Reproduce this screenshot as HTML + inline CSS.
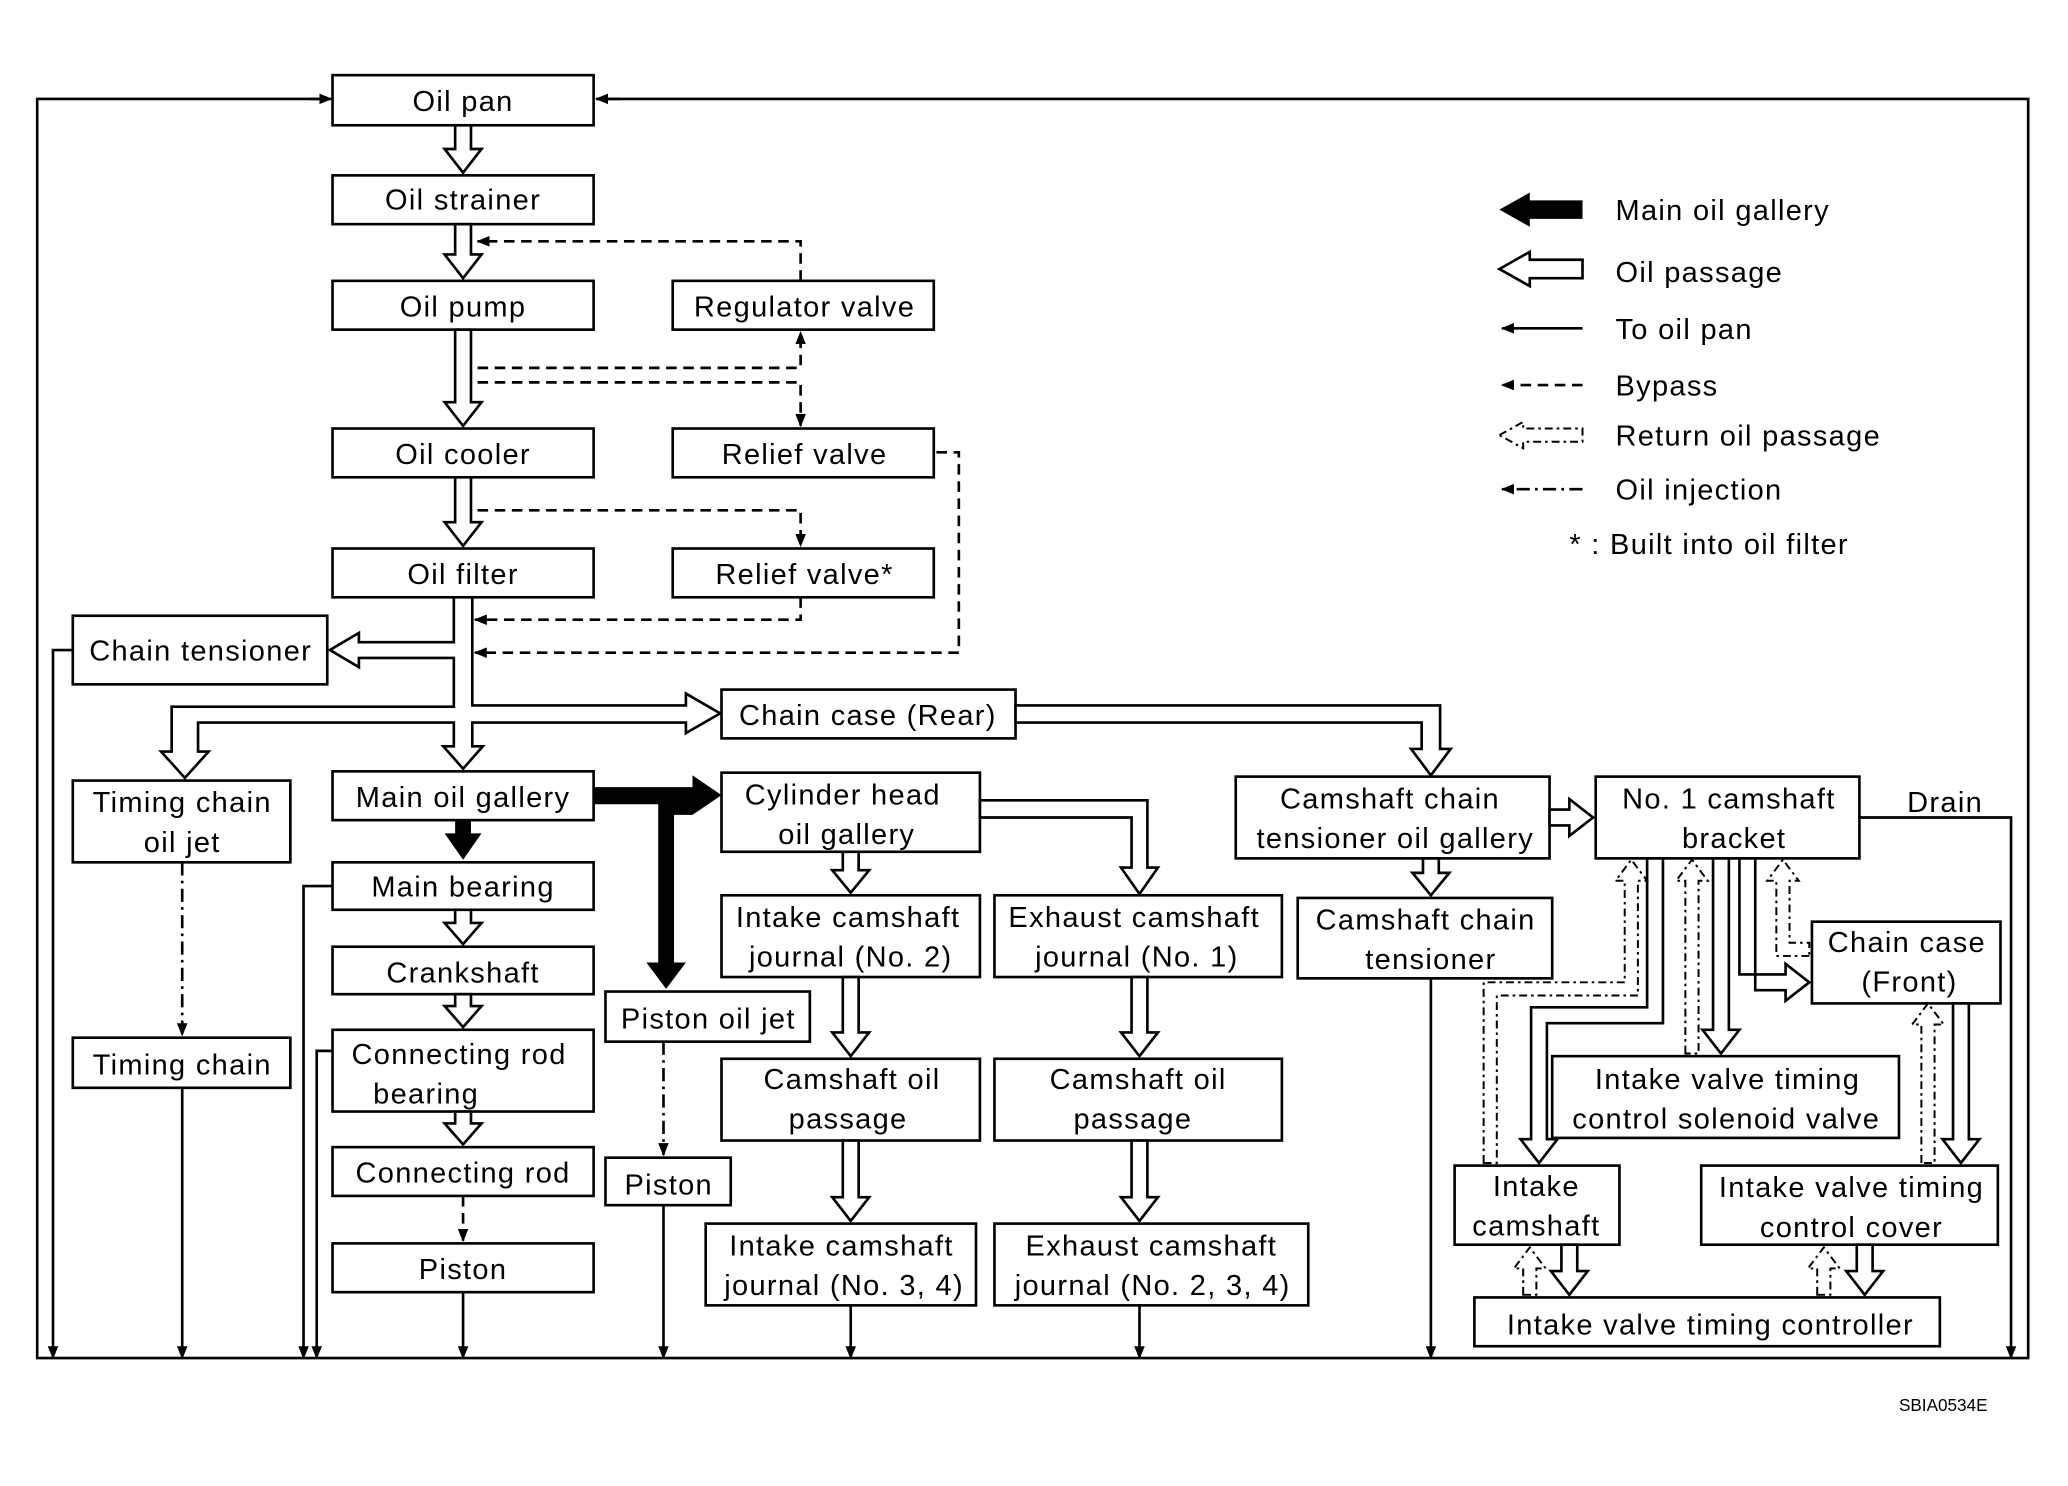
<!DOCTYPE html>
<html><head><meta charset="utf-8"><style>
html,body{margin:0;padding:0;background:#fff;}
svg{display:block;}
text{font-family:"Liberation Sans",sans-serif;font-size:22px;fill:#000;letter-spacing:1px;}
</style></head><body>
<svg width="2068" height="1486" viewBox="0 0 1568 1127" xmlns="http://www.w3.org/2000/svg">
<defs>
<marker id="ah" markerWidth="10" markerHeight="8" refX="9" refY="4" orient="auto" markerUnits="userSpaceOnUse"><path d="M0,0 L10,4 L0,8 Z" fill="#000"/></marker>
</defs>
<g fill="#fff" stroke="#000" stroke-width="2">
<rect x="252" y="57" width="198" height="38"/>
<rect x="252" y="133" width="198" height="37"/>
<rect x="252" y="213" width="198" height="37"/>
<rect x="510" y="213" width="198" height="37"/>
<rect x="252" y="325" width="198" height="37"/>
<rect x="510" y="325" width="198" height="37"/>
<rect x="252" y="416" width="198" height="37"/>
<rect x="510" y="416" width="198" height="37"/>
<rect x="55" y="467" width="193" height="52"/>
<rect x="547" y="523" width="223" height="37"/>
<rect x="55" y="592" width="165" height="62"/>
<rect x="252" y="585" width="198" height="37"/>
<rect x="252" y="654" width="198" height="36"/>
<rect x="252" y="718" width="198" height="36"/>
<rect x="252" y="781" width="198" height="62"/>
<rect x="252" y="870" width="198" height="37"/>
<rect x="252" y="943" width="198" height="37"/>
<rect x="55" y="787" width="165" height="38"/>
<rect x="547" y="586" width="196" height="60"/>
<rect x="547" y="679" width="196" height="62"/>
<rect x="754" y="679" width="218" height="62"/>
<rect x="459" y="752" width="155" height="38"/>
<rect x="459" y="878" width="95" height="36"/>
<rect x="547" y="803" width="196" height="62"/>
<rect x="754" y="803" width="218" height="62"/>
<rect x="535" y="928" width="205" height="62"/>
<rect x="754" y="928" width="238" height="62"/>
<rect x="937" y="589" width="238" height="62"/>
<rect x="984" y="681" width="193" height="61"/>
<rect x="1210" y="589" width="200" height="62"/>
<rect x="1374" y="699" width="143" height="62"/>
<rect x="1177" y="801" width="263" height="62"/>
<rect x="1103" y="884" width="125" height="60"/>
<rect x="1290" y="884" width="225" height="60"/>
<rect x="1118" y="984" width="353" height="37"/>
</g>
<g fill="none" stroke="#000" stroke-width="2">
<polyline points="250,75 28,75 28,1030 1538,1030 1538,75 452,75"/>
<path d="M235,75 H251" marker-end="url(#ah)"/>
<path d="M470,75 H452" marker-end="url(#ah)"/>
<path d="M55,493 H40 V1030" marker-end="url(#ah)"/>
<path d="M138,825 V1030" marker-end="url(#ah)"/>
<path d="M252,672 H230 V1030" marker-end="url(#ah)"/>
<path d="M252,797 H240 V1030" marker-end="url(#ah)"/>
<path d="M351,980 V1030" marker-end="url(#ah)"/>
<path d="M503,914 V1030" marker-end="url(#ah)"/>
<path d="M645,990 V1030" marker-end="url(#ah)"/>
<path d="M864,990 V1030" marker-end="url(#ah)"/>
<path d="M1085,742 V1030" marker-end="url(#ah)"/>
<path d="M1410,620 H1525 V1030" marker-end="url(#ah)"/>
</g>
<g fill="none" stroke="#000" stroke-width="2" stroke-dasharray="8,5">
<path d="M607,213 V183 H362" marker-end="url(#ah)"/>
<path d="M362,279 H607 V252" marker-end="url(#ah)"/>
<path d="M362,290 H607 V323" marker-end="url(#ah)"/>
<path d="M362,387 H607 V414" marker-end="url(#ah)"/>
<path d="M607,453 V470 H360" marker-end="url(#ah)"/>
<path d="M710,343 H727 V495 H360" marker-end="url(#ah)"/>
<path d="M351,907 V941" marker-end="url(#ah)"/>
</g>
<g fill="none" stroke="#000" stroke-width="2" stroke-dasharray="10,4,2,4">
<path d="M138,654 V785" marker-end="url(#ah)"/>
<path d="M503,790 V876" marker-end="url(#ah)"/>
</g>
<g fill="#fff" stroke="#000" stroke-width="2" stroke-linejoin="miter">
<polygon points="345,95 345,113 337,113 351,131 365,113 357,113 357,95"/>
<polygon points="345,170 345,193 337,193 351,211 365,193 357,193 357,170"/>
<polygon points="345,250 345,305 337,305 351,323 365,305 357,305 357,250"/>
<polygon points="345,362 345,396 337,396 351,414 365,396 357,396 357,362"/>
<polygon points="344,453 344,487 272,487 272,480 250,493 272,506 272,499 344,499 344,536 130,536 130,570 122,570 140,590 158,570 150,570 150,548 344,548 344,566 336,566 351,583 366,566 358,566 358,548 520,548 520,556 546,541 520,526 520,535 358,535 358,453"/>
<polygon points="770,535 1092,535 1092,568 1100,568 1085,588 1070,568 1078,568 1078,548 770,548"/>
<polygon points="743,607 870,607 870,658 878,658 864,678 850,658 858,658 858,620 743,620"/>
<polygon points="639,646 639,660 631,660 645,677 659,660 651,660 651,646"/>
<polygon points="639,741 639,783 631,783 645,801 659,783 651,783 651,741"/>
<polygon points="639,865 639,908 631,908 645,926 659,908 651,908 651,865"/>
<polygon points="858,741 858,783 850,783 864,801 878,783 870,783 870,741"/>
<polygon points="858,865 858,908 850,908 864,926 878,908 870,908 870,865"/>
<polygon points="345,690 345,700 337,700 351,716 365,700 357,700 357,690"/>
<polygon points="345,754 345,763 337,763 351,779 365,763 357,763 357,754"/>
<polygon points="345,843 345,852 337,852 351,868 365,852 357,852 357,843"/>
<polygon points="1079,651 1079,662 1071,662 1085,679 1099,662 1091,662 1091,651"/>
<polygon points="1175,614 1190,614 1190,606 1208,620 1190,634 1190,626 1175,626"/>
<polygon points="1319,651 1319,739 1354,739 1354,731 1372,745 1354,759 1354,751 1331,751 1331,651"/>
<polygon points="1299,651 1299,781 1291,781 1305,799 1319,781 1311,781 1311,651"/>
<polygon points="1249,651 1249,764 1161,764 1161,864 1153,864 1167,882 1181,864 1173,864 1173,776 1261,776 1261,651"/>
<polygon points="1481,761 1481,864 1473,864 1487,882 1501,864 1493,864 1493,761"/>
<polygon points="1184,944 1184,964 1176,964 1190,982 1204,964 1196,964 1196,944"/>
<polygon points="1408,944 1408,964 1400,964 1414,982 1428,964 1420,964 1420,944"/>
</g>
<g fill="#fff" stroke="#000" stroke-width="1.5" stroke-dasharray="6,3,2,3">
<polygon points="1155,982 1155,962 1148,962 1160,946 1172,962 1165,962 1165,982"/>
<polygon points="1378,982 1378,962 1371,962 1383,946 1395,962 1388,962 1388,982"/>
<polygon points="1125,882 1125,745 1232,745 1232,668 1225,668 1237,652 1249,668 1242,668 1242,755 1135,755 1135,882"/>
<polygon points="1278,799 1278,668 1271,668 1283,652 1295,668 1288,668 1288,799"/>
<polygon points="1372,725 1347,725 1347,668 1340,668 1352,652 1364,668 1357,668 1357,715 1372,715"/>
<polygon points="1457,882 1457,777 1450,777 1462,761 1474,777 1467,777 1467,882"/>
</g>
<g fill="#000">
<polygon points="450,597 525,597 525,588 547,603 525,618 511,618 511,730 520,730 505,750 490,730 499,730 499,610 450,610"/>
<polygon points="345,622 345,632 337,632 351,652 365,632 357,632 357,622"/>
</g>
<polygon points="1137,159 1160,146 1160,152 1200,152 1200,166 1160,166 1160,172" fill="#000"/>
<polygon points="1137,204 1160,191 1160,197 1200,197 1200,211 1160,211 1160,217" fill="#fff" stroke="#000" stroke-width="2"/>
<path d="M1200,249 H1139" stroke="#000" stroke-width="2" marker-end="url(#ah)"/>
<path d="M1200,292 H1139" stroke="#000" stroke-width="2" stroke-dasharray="8,5" marker-end="url(#ah)"/>
<polygon points="1137,330 1155,320 1155,325 1200,325 1200,335 1155,335 1155,340" fill="#fff" stroke="#000" stroke-width="1.5" stroke-dasharray="6,3,2,3"/>
<path d="M1200,371 H1139" stroke="#000" stroke-width="2" stroke-dasharray="10,4,2,4" marker-end="url(#ah)"/>
<text x="1225" y="167">Main oil gallery</text>
<text x="1225" y="214">Oil passage</text>
<text x="1225" y="257">To oil pan</text>
<text x="1225" y="300">Bypass</text>
<text x="1225" y="338">Return oil passage</text>
<text x="1225" y="379">Oil injection</text>
<text x="1190" y="420">* : Built into oil filter</text>
<g text-anchor="middle">
<text x="351" y="84">Oil pan</text>
<text x="351" y="159">Oil strainer</text>
<text x="351" y="240">Oil pump</text>
<text x="610" y="240">Regulator valve</text>
<text x="351" y="352">Oil cooler</text>
<text x="610" y="352">Relief valve</text>
<text x="351" y="443">Oil filter</text>
<text x="610" y="443">Relief valve*</text>
<text x="152" y="501">Chain tensioner</text>
<text x="658" y="550">Chain case (Rear)</text>
<text x="138" y="616">Timing chain</text>
<text x="138" y="646">oil jet</text>
<text x="351" y="612">Main oil gallery</text>
<text x="351" y="680">Main bearing</text>
<text x="351" y="745">Crankshaft</text>
<text x="348" y="807">Connecting rod</text>
<text x="323" y="837">bearing</text>
<text x="351" y="897">Connecting rod</text>
<text x="351" y="970">Piston</text>
<text x="138" y="815">Timing chain</text>
<text x="639" y="610">Cylinder head</text>
<text x="642" y="640">oil gallery</text>
<text x="643" y="703">Intake camshaft</text>
<text x="645" y="733">journal (No. 2)</text>
<text x="860" y="703">Exhaust camshaft</text>
<text x="862" y="733">journal (No. 1)</text>
<text x="537" y="780">Piston oil jet</text>
<text x="507" y="906">Piston</text>
<text x="646" y="826">Camshaft oil</text>
<text x="643" y="856">passage</text>
<text x="863" y="826">Camshaft oil</text>
<text x="859" y="856">passage</text>
<text x="638" y="952">Intake camshaft</text>
<text x="640" y="982">journal (No. 3, 4)</text>
<text x="873" y="952">Exhaust camshaft</text>
<text x="874" y="982">journal (No. 2, 3, 4)</text>
<text x="1054" y="613">Camshaft chain</text>
<text x="1058" y="643">tensioner oil gallery</text>
<text x="1081" y="705">Camshaft chain</text>
<text x="1085" y="735">tensioner</text>
<text x="1311" y="613">No. 1 camshaft</text>
<text x="1315" y="643">bracket</text>
<text x="1475" y="616">Drain</text>
<text x="1446" y="722">Chain case</text>
<text x="1448" y="752">(Front)</text>
<text x="1310" y="826">Intake valve timing</text>
<text x="1309" y="856">control solenoid valve</text>
<text x="1165" y="907">Intake</text>
<text x="1165" y="937">camshaft</text>
<text x="1404" y="908">Intake valve timing</text>
<text x="1404" y="938">control cover</text>
<text x="1297" y="1012">Intake valve timing controller</text>
</g>
<text x="1440" y="1070" style="font-size:13px;letter-spacing:0">SBIA0534E</text>
</svg>
</body></html>
